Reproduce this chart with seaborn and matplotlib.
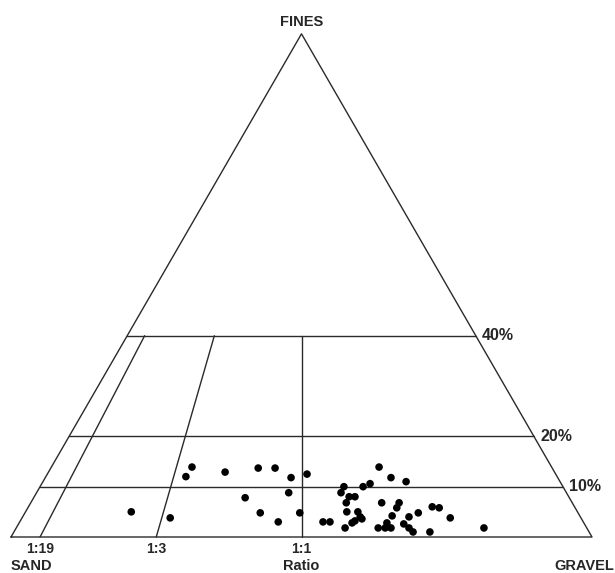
import numpy as np
import pandas as pd
import seaborn as sns
import matplotlib.pyplot as plt

# sample composition, percent of total
fines_pct = [5.0, 3.8, 13.9, 12.0, 12.9, 13.7, 13.7, 11.8, 12.5, 7.8, 8.8, 4.8, 3.0, 4.8,
             13.9, 11.8, 11.0, 10.6, 10.0, 10.0, 8.8, 8.0, 8.0, 6.8, 6.8, 6.8, 5.8, 5.0,
             5.0, 4.0, 3.2, 2.8, 3.0, 3.0, 1.8, 4.2, 2.8, 1.8, 1.8, 1.8, 2.6, 4.0, 4.8,
             1.8, 1.0, 1.0, 6.0, 5.8, 3.8, 1.8, 3.6]
gravel_pct = [18.2, 25.5, 24.2, 24.1, 30.4, 35.7, 38.6, 42.3, 44.7, 36.4, 43.4, 40.5, 44.5, 47.3,
              56.4, 59.5, 62.5, 56.5, 55.6, 52.3, 52.4, 54.2, 55.2, 54.3, 60.4, 63.4, 63.5, 55.3,
              57.2, 58.1, 57.6, 57.3, 52.2, 53.4, 56.6, 63.5, 63.3, 62.3, 63.5, 64.5, 66.3, 66.5,
              67.7, 67.6, 68.7, 71.6, 69.5, 70.8, 73.7, 80.5, 58.6]

fines_levels = [10, 20, 40]
level_labels = ['10%', '20%', '40%']
ratio_gravel = [0.05, 0.25, 0.5]      # gravel share of sand+gravel
ratio_labels = ['1:19', '1:3', '1:1']

H = np.sqrt(3) / 2


def tern(gravel, fines):
    # ternary -> cartesian, sand at (0,0), gravel at (1,0), fines at apex
    return gravel + fines / 2, fines * H


f = np.array(fines_pct) / 100
g = np.array(gravel_pct) / 100
x, y = tern(g, f)
df = pd.DataFrame({'x': x, 'y': y})

sns.set_style('white')
plt.rcParams['font.family'] = ['Liberation Sans', 'DejaVu Sans']

fig = plt.figure(figsize=(6.15, 5.73), dpi=100)
ax = fig.add_axes([0, 0, 1, 1])
ax.set_xlim(-11 / 581, 604 / 581)
ax.set_ylim(-36 / 581, 537 / 581)
ax.axis('off')

lc = '#2a2a2a'
lw = 1.0

# outline
ax.plot([0, 1, 0.5, 0], [0, 0, H, 0], color=lc, lw=lw)

# fines levels
for lev, lab in zip(fines_levels, level_labels):
    fr = lev / 100
    x0, y0 = tern(0, fr)
    x1, y1 = tern(1 - fr, fr)
    ax.plot([x0, x1], [y0, y1], color=lc, lw=lw)
    ax.text(x1 + 0.011, y1, lab, ha='left', va='center', fontsize=11.5, fontweight='bold')

# sand:gravel ratio lines up to 40% fines
for r, lab in zip(ratio_gravel, ratio_labels):
    xa, ya = tern(r, 0)
    xb, yb = tern(r * 0.6, 0.4)
    ax.plot([xa, xb], [ya, yb], color=lc, lw=lw)
    ax.text(r, -0.021, lab, ha='center', va='center', fontsize=10, fontweight='bold')

sns.scatterplot(data=df, x='x', y='y', ax=ax, color='black', s=30, edgecolor='none', zorder=3)

ax.text(0.5, 0.886, 'FINES', ha='center', va='center', fontsize=10.5, fontweight='bold')
ax.text(0.0, -0.050, 'SAND', ha='left', va='center', fontsize=10.5, fontweight='bold')
ax.text(0.5, -0.050, 'Ratio', ha='center', va='center', fontsize=10.5, fontweight='bold')
ax.text(1.038, -0.050, 'GRAVEL', ha='right', va='center', fontsize=10.5, fontweight='bold')

fig.savefig('out.png', dpi=100)
